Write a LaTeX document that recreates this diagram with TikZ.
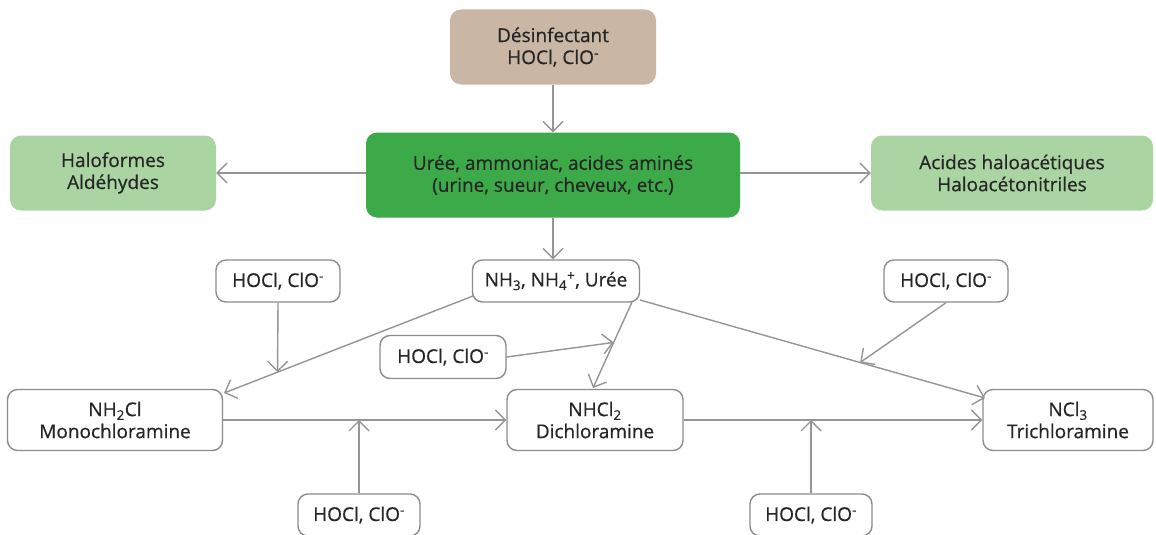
\documentclass[tikz,border=0pt]{standalone}
\usepackage{fontspec}
\setmainfont{Open Sans}[FakeBold=0.6]
\newfontfamily\medfont{Open Sans}[FakeBold=0.6]
\usetikzlibrary{arrows.meta,calc}
\definecolor{beige}{HTML}{C9B6A5}
\definecolor{green1}{HTML}{3DAA4A}
\definecolor{green2}{HTML}{AAD4A1}
\definecolor{boxgray}{HTML}{8C8C8C}
\definecolor{arrgray}{HTML}{959595}
\definecolor{txt}{HTML}{262626}
\newcommand{\minus}{\textsuperscript{-}}
\begin{document}
\begin{tikzpicture}[x=1pt,y=-1pt,
  every node/.style={font=\medfont\fontsize{19}{22}\selectfont, text=txt, align=center, inner sep=0pt},
  fbox/.style={rounded corners=11pt, draw=none},
  wbox/.style={rounded corners=10pt, draw=boxgray, line width=1.4pt, fill=white},
  arr/.style={draw=arrgray, line width=1.4pt, -{Straight Barb[length=10pt,width=20pt,line width=1.4pt]}}
]
\useasboundingbox (0,0) rectangle (1156,535);
\fill[white] (0,0) rectangle (1156,535);
% filled boxes
\node[fbox, fill=beige, minimum width=206pt, minimum height=75pt] (des) at (553,47) {Désinfectant\\HOCl, ClO\minus};
\node[fbox, fill=green1, minimum width=374pt, minimum height=85pt] (main) at (553,175) {Urée, ammoniac, acides aminés\\(urine, sueur, cheveux, etc.)};
\node[fbox, fill=green2, minimum width=206pt, minimum height=75pt] (halo) at (113,173) {Haloformes\\Aldéhydes};
\node[fbox, fill=green2, minimum width=282pt, minimum height=75pt] (acid) at (1012,173) {Acides haloacétiques\\Haloacétonitriles};
% white boxes
\node[wbox, minimum width=167pt, minimum height=42pt] (nh3) at (556,281) {NH\textsubscript{3}, NH\textsubscript{4}\textsuperscript{+}, Urée};
\node[wbox, minimum width=124pt, minimum height=42pt] (h1) at (278,281) {HOCl, ClO\minus};
\node[wbox, minimum width=124pt, minimum height=42pt] (h2) at (946,281) {HOCl, ClO\minus};
\node[wbox, minimum width=126pt, minimum height=43pt] (h3) at (443,357) {HOCl, ClO\minus};
\node[wbox, minimum width=215pt, minimum height=61pt] (mono) at (115,420) {NH\textsubscript{2}Cl\\Monochloramine};
\node[wbox, minimum width=176pt, minimum height=61pt] (di) at (595,420) {NHCl\textsubscript{2}\\Dichloramine};
\node[wbox, minimum width=170pt, minimum height=61pt] (tri) at (1068,420) {NCl\textsubscript{3}\\Trichloramine};
\node[wbox, minimum width=122pt, minimum height=42pt] (h4) at (359,515) {HOCl, ClO\minus};
\node[wbox, minimum width=122pt, minimum height=42pt] (h5) at (811,515) {HOCl, ClO\minus};
% line end coordinates
\coordinate (a1) at (473,296);
\coordinate (a2) at (224,393);
\coordinate (b1) at (632,302);
\coordinate (b2) at (593,388);
\coordinate (c1) at (640,300);
\coordinate (c2) at (985,398);
\coordinate (pa) at ($(a1)!0.785!(a2)$);
\coordinate (pb) at ($(b1)!0.47!(b2)$);
\coordinate (pc) at ($(c1)!0.638!(c2)$);
% arrows
\draw[arr] (des.south) -- (main.north);
\draw[arr] (main.west |- halo.east) -- (halo.east);
\draw[arr] (main.east |- acid.west) -- (acid.west);
\draw[arr] (main.south) -- (nh3.north -| main.south);
\draw[arr] (a1) -- (a2);
\draw[arr] (b1) -- (b2);
\draw[arr] (c1) -- (c2);
\draw[arr] (h1.south) -- (pa);
\draw[arr] (h3.east) -- (pb);
\draw[arr] (h2.south) -- (pc);
\draw[arr] (mono.east) -- (di.west);
\draw[arr] (di.east) -- (tri.west);
\draw[arr] (h4.north) -- (h4.north |- di.west);
\draw[arr] (h5.north) -- (h5.north |- di.east);
\end{tikzpicture}
\end{document}
